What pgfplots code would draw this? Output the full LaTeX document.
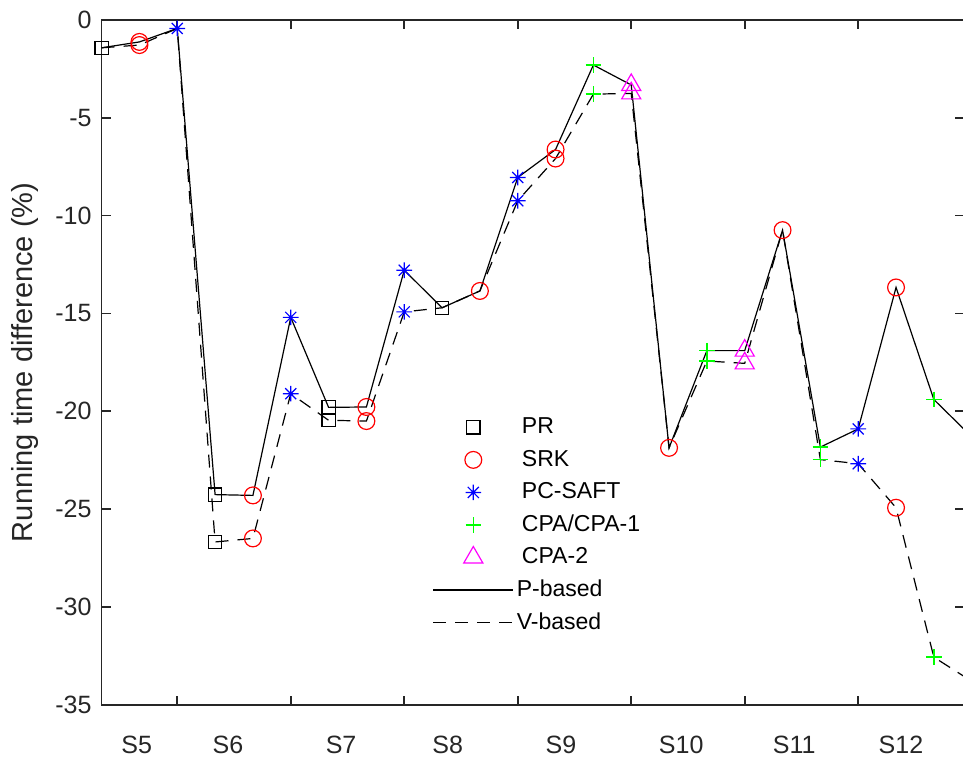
\documentclass[border=0pt]{standalone}
\usepackage{fontspec}
\setmainfont{Liberation Sans}
\usepackage{pgfplots}
\usepackage{pgfplotstable}
\pgfplotsset{compat=1.18}
\definecolor{axgray}{rgb}{0.15,0.15,0.15}
\definecolor{mgreen}{rgb}{0,1,0}
\definecolor{mmag}{rgb}{1,0,1}

\pgfdeclareplotmark{star8}{%
  \pgfpathmoveto{\pgfqpoint{-\pgfplotmarksize}{0pt}}\pgfpathlineto{\pgfqpoint{\pgfplotmarksize}{0pt}}%
  \pgfpathmoveto{\pgfqpoint{0pt}{-\pgfplotmarksize}}\pgfpathlineto{\pgfqpoint{0pt}{\pgfplotmarksize}}%
  \pgfpathmoveto{\pgfqpoint{-0.7071\pgfplotmarksize}{-0.7071\pgfplotmarksize}}\pgfpathlineto{\pgfqpoint{0.7071\pgfplotmarksize}{0.7071\pgfplotmarksize}}%
  \pgfpathmoveto{\pgfqpoint{-0.7071\pgfplotmarksize}{0.7071\pgfplotmarksize}}\pgfpathlineto{\pgfqpoint{0.7071\pgfplotmarksize}{-0.7071\pgfplotmarksize}}%
  \pgfusepathqstroke}

% i: case index, P: P-based, V: V-based
\pgfplotstableread{
i P V
1 -1.42 -1.42
2 -1.12 -1.28
3 -0.43 -0.43
4 -24.26 -26.68
5 -24.30 -26.50
6 -15.20 -19.10
7 -19.80 -20.46
8 -19.78 -20.50
9 -12.79 -14.92
10 -14.71 -14.71
11 -13.85 -13.85
12 -8.05 -9.24
13 -6.62 -7.08
14 -2.30 -3.79
15 -3.32 -3.75
16 -21.87 -21.87
17 -16.90 -17.43
18 -16.90 -17.55
19 -10.74 -10.74
20 -21.83 -22.47
21 -20.90 -22.68
22 -13.67 -24.93
23 -19.40 -32.57
24 -21.30 -33.80
}\datatable

\begin{document}
\begin{tikzpicture}
\begin{axis}[
  name=ax,
  scale only axis, width=430.75pt, height=342pt,
  xmin=1, xmax=23.797, ymin=-35, ymax=0,
  xtick={3,6,...,21}, xticklabels={},
  ytick={-35,-30,...,0},
  extra x ticks={1.93,4.34,7.33,10.15,13.14,16.32,19.31,22.13},
  extra x tick labels={S5,S6,S7,S8,S9,S10,S11,S12},
  extra x tick style={major tick length=0pt, xticklabel style={anchor=center, yshift=-20pt}},
  tick align=inside, major tick length=4.5pt,
  axis line style={axgray, line width=0.8pt},
  tick style={axgray, line width=0.8pt},
  /pgf/number format/assume math mode=true,
  tick label style={font=\fontsize{12.5}{15}\selectfont, text=axgray},
  yticklabel style={xshift=-1.5pt},
  ylabel={Running time difference (\%)},
  every axis y label/.style={at={(rel axis cs:-0.0888,0.5)}, rotate=90, anchor=center, font=\fontsize{14.5}{17}\selectfont, text=axgray},
  legend cell align=left,
  legend style={at={(0.3833,0.4225)}, anchor=north west, draw=none, fill=none, inner sep=0pt, row sep=4.75pt,
    font=\fontsize{11.5}{13}\selectfont,
    nodes={inner sep=0pt, text height=9pt, text depth=2.5pt}},
]
\addplot[black, line width=0.6pt, forget plot] table[x=i,y=P]{\datatable};
\addplot[black, line width=0.6pt, dash pattern=on 6.5pt off 4.5pt, forget plot] table[x=i,y=V]{\datatable};

% PR
\addplot[only marks, mark=square, black, mark size=3.3pt, line width=0.6pt, forget plot]
  coordinates {(1,-1.42)(4,-24.26)(4,-26.68)(7,-19.80)(7,-20.46)(10,-14.71)};
% SRK
\addplot[only marks, mark=o, red, mark size=4.2pt, line width=0.6pt, forget plot]
  coordinates {(2,-1.12)(2,-1.28)(5,-24.30)(5,-26.50)(8,-19.78)(8,-20.50)(11,-13.85)(13,-6.62)(13,-7.08)(16,-21.87)(19,-10.74)(22,-13.67)(22,-24.93)};
% PC-SAFT
\addplot[only marks, mark=star8, blue, mark size=3.9pt, line width=0.6pt, forget plot]
  coordinates {(3,-0.43)(6,-15.20)(6,-19.10)(9,-12.79)(9,-14.92)(12,-8.05)(12,-9.24)(21,-20.90)(21,-22.68)(24,-21.30)(24,-33.80)};
% CPA / CPA-1
\addplot[only marks, mark=+, mgreen, mark size=3.9pt, line width=0.7pt, forget plot]
  coordinates {(14,-2.30)(14,-3.79)(17,-16.90)(17,-17.43)(20,-21.83)(20,-22.47)(23,-19.40)(23,-32.57)};
% CPA-2
\addplot[only marks, mark=triangle, mmag, mark size=5.5pt, line width=0.6pt, forget plot]
  coordinates {(15,-3.32)(15,-3.75)(18,-16.90)(18,-17.55)};

\pgfplotsset{legimg/.style={legend image code/.code={%
  \path[draw=none] (0pt,-1pt) rectangle (41.7pt,1pt);
  \draw[mark repeat=2, mark phase=2, ##1] plot coordinates {(0pt,0pt) (20pt,0pt) (40pt,0pt)};}}}
\addlegendimage{legimg, mark=square, black, mark size=3.3pt, line width=0.6pt, draw opacity=0, mark options={draw opacity=1}}
\addlegendentry{\hspace{2.6pt}PR}
\addlegendimage{legimg, mark=o, red, mark size=4.2pt, line width=0.6pt, draw opacity=0, mark options={draw opacity=1}}
\addlegendentry{\hspace{2.6pt}SRK}
\addlegendimage{legimg, mark=star8, blue, mark size=3.9pt, line width=0.6pt, draw opacity=0, mark options={draw opacity=1}}
\addlegendentry{\hspace{2.6pt}PC-SAFT}
\addlegendimage{legimg, mark=+, mgreen, mark size=3.9pt, line width=0.7pt, draw opacity=0, mark options={draw opacity=1}}
\addlegendentry{\hspace{2.6pt}CPA/CPA-1}
\addlegendimage{legimg, mark=triangle, mmag, mark size=5.5pt, line width=0.6pt, draw opacity=0, mark options={draw opacity=1}}
\addlegendentry{\hspace{2.6pt}CPA-2}
\addlegendimage{legimg, black, line width=0.6pt, mark=none}
\addlegendentry{P-based}
\addlegendimage{legimg, black, line width=0.6pt, mark=none, dash pattern=on 6.5pt off 4.5pt}
\addlegendentry{V-based}
\end{axis}
\pgfresetboundingbox
\path[use as bounding box] ([xshift=-50.75pt,yshift=-27.5pt]ax.south west) rectangle ([xshift=-0.5pt,yshift=10pt]ax.north east);
\end{tikzpicture}
\end{document}
